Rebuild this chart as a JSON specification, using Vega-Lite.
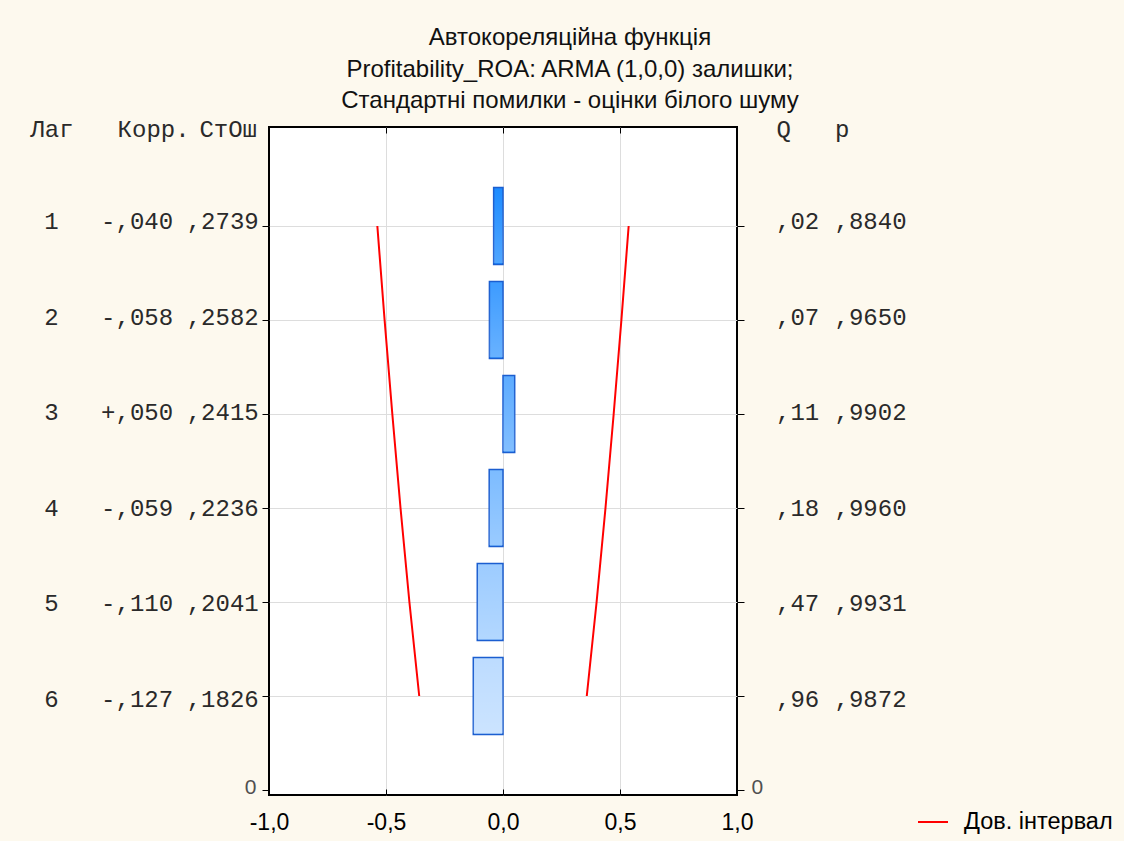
{
  "$schema": "https://vega.github.io/schema/vega-lite/v6.json",
  "background": "#FDF9EE",
  "padding": {"left": 7, "top": 26, "right": 12, "bottom": 6},
  "title": {
    "text": ["Автокореляційна функція", "Profitability_ROA: ARMA (1,0,0) залишки;", "Стандартні помилки - оцінки білого шуму"],
    "font": "Liberation Sans",
    "fontSize": 24,
    "fontWeight": "normal",
    "lineHeight": 31.5,
    "color": "#111111",
    "anchor": "middle",
    "frame": "bounds",
    "offset": 4,
    "dx": 10
  },
  "data": {
    "values": [
      {"lag": 1, "corr": -0.040, "se": 0.2739, "q": 0.02, "p": 0.8840, "lo": -0.537, "hi": 0.537},
      {"lag": 2, "corr": -0.058, "se": 0.2582, "q": 0.07, "p": 0.9650, "lo": -0.506, "hi": 0.506},
      {"lag": 3, "corr": 0.050, "se": 0.2415, "q": 0.11, "p": 0.9902, "lo": -0.473, "hi": 0.473},
      {"lag": 4, "corr": -0.059, "se": 0.2236, "q": 0.18, "p": 0.9960, "lo": -0.438, "hi": 0.438},
      {"lag": 5, "corr": -0.110, "se": 0.2041, "q": 0.47, "p": 0.9931, "lo": -0.400, "hi": 0.400},
      {"lag": 6, "corr": -0.127, "se": 0.1826, "q": 0.96, "p": 0.9872, "lo": -0.358, "hi": 0.358}
    ]
  },
  "spacing": 0,
  "bounds": "flush",
  "hconcat": [
    {
      "width": 262,
      "height": 668,
      "view": {"stroke": null},
      "encoding": {
        "y": {"field": "lag", "type": "quantitative", "scale": {"domain": [0, 7], "reverse": true, "nice": false, "zero": false}, "axis": null}
      },
      "layer": [
        {
          "mark": {"type": "text", "align": "center", "baseline": "middle", "font": "Liberation Mono", "fontSize": 24, "color": "#2A2A2A"},
          "encoding": {
            "x": {
              "datum": "Лаг", "type": "ordinal",
              "scale": {"type": "point", "domain": ["Лаг", "Корр.", "СтОш"], "padding": 0.53, "align": 0.49},
              "axis": {
                "orient": "top", "title": null, "ticks": false, "domain": false, "grid": false,
                "labelAngle": 0, "labelFont": "Liberation Mono", "labelFontSize": 24, "labelColor": "#2A2A2A",
                "labelBaseline": "middle", "labelPadding": -2,
                "labelOffset": {"condition": [{"test": "datum.value === 'Корр.'", "value": 16}, {"test": "datum.value === 'СтОш'", "value": 5}], "value": 0}
              }
            },
            "text": {"field": "lag", "type": "quantitative", "format": "d"}
          }
        },
        {
          "mark": {"type": "text", "align": "center", "baseline": "middle", "font": "Liberation Mono", "fontSize": 24, "color": "#2A2A2A",
                   "text": {"expr": "replace(format(datum.corr, '+.3f'), '0,', ',')"}},
          "encoding": {"x": {"datum": "Корр.", "type": "ordinal"}}
        },
        {
          "mark": {"type": "text", "align": "center", "baseline": "middle", "font": "Liberation Mono", "fontSize": 24, "color": "#2A2A2A",
                   "text": {"expr": "replace(format(datum.se, '.4f'), '0,', ',')"}},
          "encoding": {"x": {"datum": "СтОш", "type": "ordinal"}}
        }
      ]
    },
    {
      "width": 468,
      "height": 668,
      "view": {"fill": "white", "stroke": "black", "strokeWidth": 2},
      "resolve": {"axis": {"x": "independent", "y": "independent"}},
      "layer": [
        {
          "mark": {"type": "bar", "height": 77, "stroke": "#1B5ED0", "strokeWidth": 1.5},
          "encoding": {
            "y": {
              "field": "lag", "type": "quantitative",
              "scale": {"domain": [0, 7], "reverse": true, "nice": false, "zero": false},
              "axis": {
                "orient": "left", "values": [1, 2, 3, 4, 5, 6, 7], "title": null, "domain": false,
                "grid": true, "gridColor": "#DDDDDD",
                "gridOpacity": {"condition": {"test": "datum.value === 7", "value": 0}, "value": 1},
                "tickSize": 7, "tickColor": "black",
                "labelExpr": "datum.value === 7 ? '0' : ''", "labelFlush": false,
                "labelBaseline": "middle", "labelOffset": -3,
                "labelFont": "Liberation Sans", "labelFontSize": 21, "labelColor": "#505050", "labelPadding": 6
              }
            },
            "x": {
              "field": "corr", "type": "quantitative",
              "scale": {"domain": [-1, 1], "nice": false, "zero": false},
              "axis": {
                "orient": "bottom", "values": [-1, -0.5, 0, 0.5, 1], "format": ".1f", "title": null,
                "domain": false, "grid": false, "tickSize": -6, "tickColor": "black",
                "labelFont": "Liberation Sans", "labelFontSize": 23, "labelColor": "black",
                "labelPadding": 22, "labelFlush": false, "labelOverlap": false
              }
            },
            "x2": {"datum": 0},
            "fill": {
              "field": "lag", "type": "quantitative",
              "scale": {"domain": [1, 6], "range": ["#1E8CFF", "#BDDCFF"], "interpolate": "rgb"},
              "legend": null
            }
          }
        },
        {
          "mark": {
            "type": "bar", "height": 74,
            "fill": {"gradient": "linear", "x1": 0, "y1": 0, "x2": 0, "y2": 1,
                     "stops": [{"offset": 0, "color": "rgba(255,255,255,0)"}, {"offset": 1, "color": "rgba(255,255,255,0.22)"}]}
          },
          "encoding": {
            "y": {"field": "lag", "type": "quantitative", "axis": null},
            "x": {"field": "corr", "type": "quantitative", "axis": null},
            "x2": {"datum": 0}
          }
        },
        {
          "mark": {"type": "line", "strokeWidth": 2},
          "encoding": {
            "y": {
              "field": "lag", "type": "quantitative",
              "axis": {
                "orient": "right", "values": [1, 2, 3, 4, 5, 6, 7], "title": null, "domain": false, "grid": false,
                "tickSize": 7, "tickColor": "black",
                "labelExpr": "datum.value === 7 ? '0' : ''", "labelFlush": false,
                "labelBaseline": "middle", "labelOffset": -3,
                "labelFont": "Liberation Sans", "labelFontSize": 21, "labelColor": "#505050", "labelPadding": 7
              }
            },
            "x": {
              "field": "lo", "type": "quantitative",
              "axis": {
                "orient": "top", "values": [-0.5, 0, 0.5], "title": null, "domain": false, "labels": false,
                "grid": true, "gridColor": "#DDDDDD", "tickSize": -6, "tickColor": "black"
              }
            },
            "order": {"field": "lag"},
            "stroke": {
              "datum": "Дов. інтервал", "type": "nominal",
              "scale": {"range": ["#FF0000"]},
              "legend": {
                "orient": "none", "legendX": 910, "legendY": 679, "title": null, "padding": 0,
                "symbolType": "stroke", "symbolSize": 900, "symbolStrokeWidth": 2,
                "labelFont": "Liberation Sans", "labelFontSize": 23.5, "labelColor": "black", "labelOffset": 15
              }
            }
          }
        },
        {
          "mark": {"type": "line", "strokeWidth": 2},
          "encoding": {
            "y": {"field": "lag", "type": "quantitative", "axis": null},
            "x": {"field": "hi", "type": "quantitative", "axis": null},
            "order": {"field": "lag"},
            "stroke": {"datum": "Дов. інтервал", "type": "nominal"}
          }
        }
      ]
    },
    {
      "width": 140,
      "height": 668,
      "view": {"stroke": null},
      "encoding": {
        "y": {"field": "lag", "type": "quantitative", "scale": {"domain": [0, 7], "reverse": true, "nice": false, "zero": false}, "axis": null}
      },
      "layer": [
        {
          "mark": {"type": "text", "align": "left", "baseline": "middle", "font": "Liberation Mono", "fontSize": 24, "color": "#2A2A2A",
                   "text": {"expr": "replace(format(datum.q, '.2f'), '0,', ',')"}},
          "encoding": {
            "x": {
              "datum": "Q", "type": "ordinal",
              "scale": {"type": "point", "domain": ["Q", "p"], "padding": 0.697, "align": 0.479},
              "axis": {
                "orient": "top", "title": null, "ticks": false, "domain": false, "grid": false,
                "labelAngle": 0, "labelAlign": "left", "labelFont": "Liberation Mono", "labelFontSize": 24,
                "labelColor": "#2A2A2A", "labelBaseline": "middle", "labelPadding": -2
              }
            }
          }
        },
        {
          "mark": {"type": "text", "align": "left", "baseline": "middle", "font": "Liberation Mono", "fontSize": 24, "color": "#2A2A2A",
                   "text": {"expr": "replace(format(datum.p, '.4f'), '0,', ',')"}},
          "encoding": {"x": {"datum": "p", "type": "ordinal"}}
        }
      ]
    }
  ],
  "config": {
    "view": {"stroke": null},
    "locale": {
      "number": {"decimal": ",", "thousands": " ", "grouping": [3], "currency": ["", ""], "minus": "-"}
    }
  }
}
